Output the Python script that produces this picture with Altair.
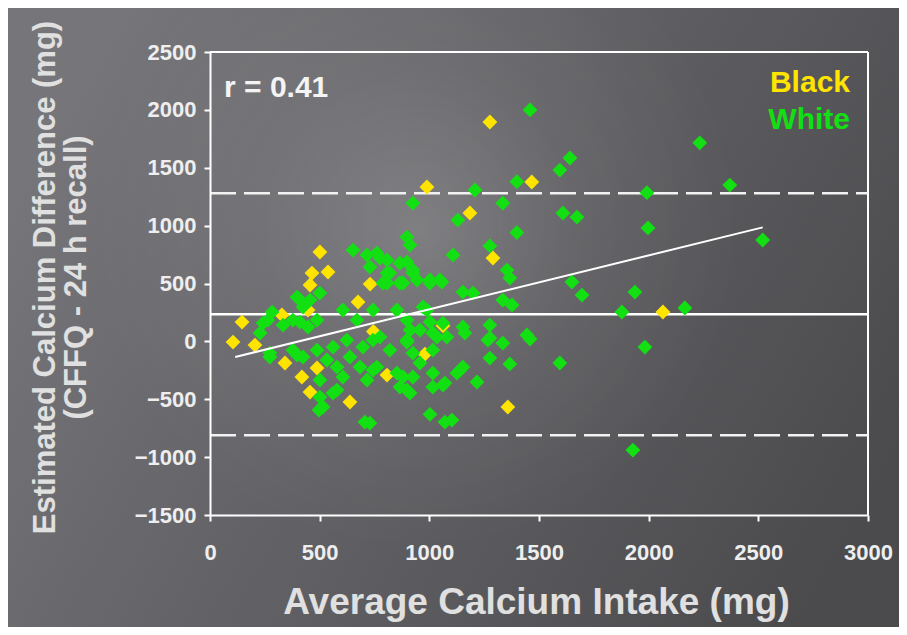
import altair as alt
import pandas as pd

# ---- data ----
black_x = [105, 146, 205, 328, 342, 419, 488, 456, 638, 501, 465, 538, 456, 675, 730,
           807, 980, 1062, 1290, 1358, 989, 1467, 1185, 1276, 2065, 745, 447]
black_y = [-6, 167, -32, 228, -187, -308, -230, -438, -524, 772, 590, 599, 487, 340, 495,
           -291, -110, 135, 720, -567, 1334, 1377, 1109, 1895, 254, 85, 270]

white_x = [652, 716, 775, 729, 807, 866, 925, 1003, 1048, 807, 866, 401, 456, 501, 283,
           242, 333, 410, 447, 488, 606, 670, 743, 852, 898, 989, 957, 1016, 1062, 273,
           378, 424, 488, 561, 624, 697, 743, 820, 898, 925, 1016, 533, 579, 638, 684,
           761, 852, 925, 1016, 501, 606, 716, 866, 912, 501, 561, 1016, 1071, 515, 1003,
           1071, 706, 264, 228, 378, 397, 424, 898, 912, 1108, 1276, 1399, 761, 807, 898,
           820, 925, 944, 880, 1003, 1057, 789, 1153, 1199, 1354, 1367, 1335, 1377, 971, 1003,
           1153, 1276, 1445, 912, 775, 898, 1035, 1080, 1162, 1267, 1335, 1459, 1276, 1367, 743,
           880, 898, 957, 1062, 1126, 1153, 1217, 1103, 729, 925, 1130, 1208, 1335, 1399, 1595,
           1609, 1673, 1992, 1997, 1650, 1696, 1937, 1878, 1983, 1595, 1140, 1459, 2233, 1641, 2370,
           2520, 2165, 1928, 273, 397, 497, 579, 1276]
white_y = [789, 746, 720, 642, 590, 677, 590, 530, 530, 504, 504, 374, 357, 417, 253,
           158, 141, 167, 124, 184, 271, 184, 271, 271, 184, 271, 98, 72, 158, -101,
           -75, -135, -75, -49, 11, -49, 11, -75, 11, -101, -75, -161, -222, -135, -222,
           -222, -274, -308, -274, -334, -308, -334, -395, -447, -481, -447, -395, -360, -567, -630,
           -697, -697, 184, 72, 184, 383, 297, 901, 832, 746, 825, 940, 763, 703, 685,
           590, 616, 530, 504, 504, 513, 504, 426, 417, 616, 547, 357, 314, 297, 167,
           124, 141, 55, 98, 37, -6, 37, 37, 72, 11, -15, 20, -144, -195, -248,
           -308, -421, -187, -377, -274, -222, -351, -680, -706, 1195, 1048, 1308, 1195, 1380, 1480,
           1108, 1074, 1285, 980, 513, 400, 426, 254, -49, -187, -248, 2000, 1715, 1584, 1350,
           876, 288, -939, -135, -118, -593, -421, 29]

# reference lines (mean difference and limits of agreement)
hline_y = [235, 1280, -810]
hline_kind = ["mean", "limit", "limit"]
# regression line end points
reg_x = [115, 2520]
reg_y = [-135, 985]

x_ticks = [0, 500, 1000, 1500, 2000, 2500, 3000]
y_ticks = [-1500, -1000, -500, 0, 500, 1000, 1500, 2000, 2500]

YELLOW = "#ffe400"
GREEN = "#12e012"
FONT = "Liberation Sans"

W, H = 658, 463
PAD = {"left": 202, "top": 44, "right": 31, "bottom": 112}

xs = alt.Scale(domain=[0, 3000], nice=False, zero=False)
ys = alt.Scale(domain=[-1500, 2500], nice=False, zero=False)

x_axis = alt.Axis(values=x_ticks, format="d", labelFlush=False, labelOverlap=False,
                  title="Average Calcium Intake (mg)", titleFontSize=37,
                  titleBaseline="middle", titleX=326, titleY=87,
                  labelBaseline="middle", labelPadding=31, zindex=2)
y_axis = alt.Axis(values=y_ticks, format="d", labelOverlap=False,
                  title=["Estimated Calcium Difference (mg)", "(CFFQ - 24 h recall)"],
                  titleFontSize=31, titleLineHeight=31, titleBaseline="middle",
                  titleAngle=270, titleX=-165, titleY=225, labelPadding=8, zindex=2)

one = pd.DataFrame({"a": [0]})

bg = alt.Chart(one).mark_rect(
    fill=alt.LinearGradient(
        gradient="linear", x1=0, y1=0.3, x2=1, y2=0.7,
        stops=[alt.GradientStop(color="#76767a", offset=0),
               alt.GradientStop(color="#66666a", offset=0.35),
               alt.GradientStop(color="#4b4b4e", offset=1)])
).encode(x=alt.value(-PAD["left"]), x2=alt.value(W + PAD["right"]),
         y=alt.value(-PAD["top"]), y2=alt.value(H + PAD["bottom"]))

glow = alt.Chart(one).mark_rect(
    fill=alt.RadialGradient(
        gradient="radial", x1=0.46, y1=0.4, r1=0, x2=0.46, y2=0.4, r2=0.36,
        stops=[alt.GradientStop(color="rgba(255,255,255,0.18)", offset=0),
               alt.GradientStop(color="rgba(255,255,255,0.06)", offset=0.5),
               alt.GradientStop(color="rgba(255,255,255,0)", offset=1)])
).encode(x=alt.value(-PAD["left"]), x2=alt.value(W + PAD["right"]),
         y=alt.value(-PAD["top"]), y2=alt.value(H + PAD["bottom"]))

frame_df = pd.DataFrame({"x0": [x_ticks[0]], "x1": [x_ticks[-1]],
                         "y0": [y_ticks[0]], "y1": [y_ticks[-1]]})
frame_top = alt.Chart(frame_df).mark_rule(color="white", strokeWidth=2).encode(
    x=alt.X("x0:Q", scale=xs, axis=x_axis), x2="x1:Q",
    y=alt.Y("y1:Q", scale=ys, axis=y_axis))
frame_right = alt.Chart(frame_df).mark_rule(color="white", strokeWidth=2).encode(
    x=alt.X("x1:Q", scale=xs, axis=x_axis),
    y=alt.Y("y0:Q", scale=ys, axis=y_axis), y2="y1:Q")

hl = pd.DataFrame({"y": hline_y, "kind": hline_kind,
                   "x0": [x_ticks[0]] * 3, "x1": [x_ticks[-1]] * 3})
mean_line = alt.Chart(hl[hl.kind == "mean"]).mark_rule(color="white", strokeWidth=2.5).encode(
    x=alt.X("x0:Q", scale=xs, axis=x_axis), x2="x1:Q",
    y=alt.Y("y:Q", scale=ys, axis=y_axis))
limit_lines = alt.Chart(hl[hl.kind == "limit"]).mark_rule(
    color="#f2f2f2", strokeWidth=2.5, strokeDash=[26, 8]).encode(
    x=alt.X("x0:Q", scale=xs, axis=x_axis), x2="x1:Q",
    y=alt.Y("y:Q", scale=ys, axis=y_axis))

reg = alt.Chart(pd.DataFrame({"x": reg_x, "y": reg_y})).mark_line(
    color="white", strokeWidth=2).encode(
    x=alt.X("x:Q", scale=xs, axis=x_axis), y=alt.Y("y:Q", scale=ys, axis=y_axis))

black = alt.Chart(pd.DataFrame({"x": black_x, "y": black_y})).mark_point(
    shape="diamond", filled=True, size=220, color=YELLOW, opacity=1).encode(
    x=alt.X("x:Q", scale=xs, axis=x_axis), y=alt.Y("y:Q", scale=ys, axis=y_axis))
white = alt.Chart(pd.DataFrame({"x": white_x, "y": white_y})).mark_point(
    shape="diamond", filled=True, size=220, color=GREEN, opacity=1).encode(
    x=alt.X("x:Q", scale=xs, axis=x_axis), y=alt.Y("y:Q", scale=ys, axis=y_axis))

r_text = alt.Chart(pd.DataFrame({"x": [64], "y": [2189], "t": ["r = 0.41"]})).mark_text(
    align="left", baseline="middle", font=FONT, fontWeight="bold", fontSize=30,
    color="#f4f4f4").encode(x=alt.X("x:Q", scale=xs, axis=x_axis),
                            y=alt.Y("y:Q", scale=ys, axis=y_axis), text="t:N")

leg = pd.DataFrame({"x": [2918, 2918], "y": [2232, 1912], "t": ["Black", "White"],
                    "c": [YELLOW, GREEN]})
leg_text = alt.Chart(leg).mark_text(
    align="right", baseline="middle", font=FONT, fontWeight="bold", fontSize=30).encode(
    x=alt.X("x:Q", scale=xs, axis=x_axis), y=alt.Y("y:Q", scale=ys, axis=y_axis),
    text="t:N", color=alt.Color("c:N", scale=None))

chart = alt.layer(
    bg, glow, frame_top, frame_right, limit_lines, mean_line, black, white, reg,
    r_text, leg_text
).properties(
    width=W, height=H, padding=PAD, autosize=alt.AutoSizeParams(type="none"),
    background="#5a5a5c"
).configure_view(stroke=None).configure_axis(
    grid=False, domainColor="white", domainWidth=2, tickColor="white", tickWidth=2,
    tickSize=6, labelColor="#eeeeee", labelFont=FONT, labelFontWeight="bold",
    labelFontSize=22, titleColor="#e0e0e0", titleFont=FONT, titleFontWeight="bold")

chart.save("out.html", embed_options={"renderer": "svg", "actions": False})
